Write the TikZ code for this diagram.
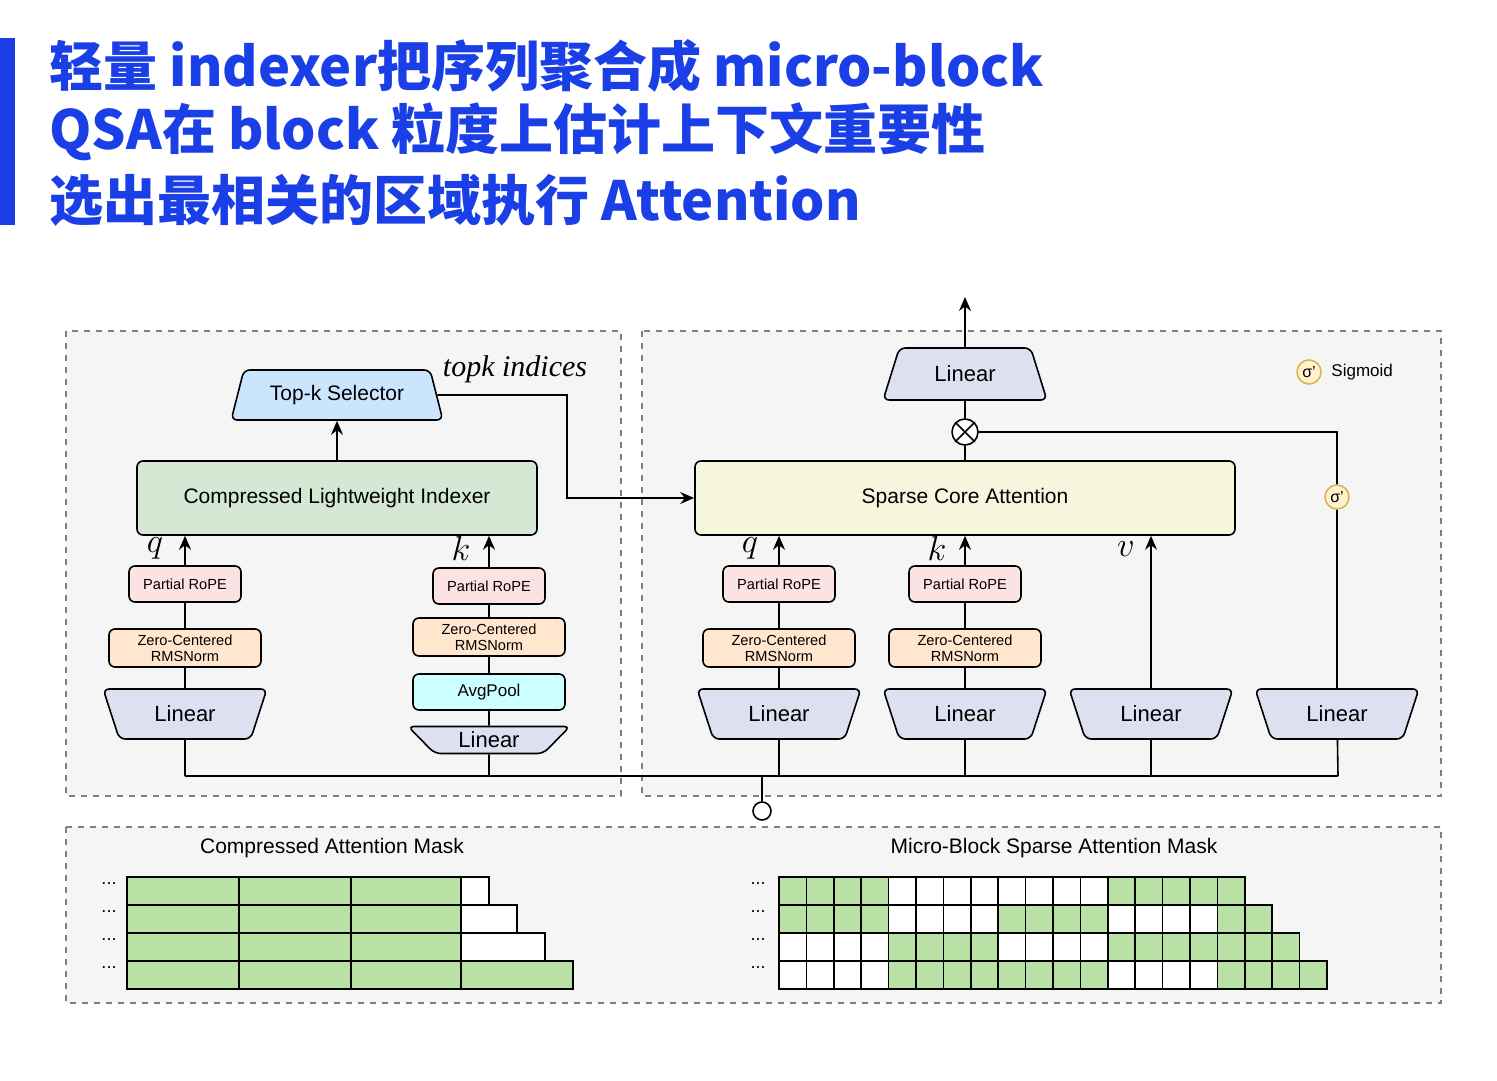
\documentclass[tikz,border=0pt]{standalone}
\usepackage{fontspec}
\setmainfont{Liberation Sans}
\newfontfamily\cjk{Noto Sans CJK SC}
\newfontfamily\serifit{Liberation Serif}
\usetikzlibrary{shapes.geometric,arrows.meta}
\definecolor{titleblue}{HTML}{1B3FE6}
\definecolor{panelbg}{HTML}{F5F5F5}
\definecolor{linfill}{HTML}{DCE0F0}
\definecolor{ropefill}{HTML}{FBE3E3}
\definecolor{normfill}{HTML}{FFE6CC}
\definecolor{poolfill}{HTML}{CCFFFF}
\definecolor{topkfill}{HTML}{CCE5FF}
\definecolor{idxfill}{HTML}{D5E8D4}
\definecolor{scafill}{HTML}{F7F7DF}
\definecolor{sigfill}{HTML}{FFF2CC}
\definecolor{sigline}{HTML}{D6B656}
\definecolor{maskgreen}{HTML}{B9E0A5}

\begin{document}
\begin{tikzpicture}[x=0.5pt,y=-0.5pt,line width=0.8pt,>={Stealth[length=7pt,width=6pt]}]
  \tikzset{panel/.style = {draw=gray,dashed,fill=panelbg,line width=0.6pt}}
  \tikzset{box/.style = {draw,rounded corners=3pt,align=center,inner sep=0pt,font=\fontsize{7.3}{8}\selectfont}}
  \tikzset{linear/.style = {trapezium,draw,fill=linfill,rounded corners=3pt,trapezium stretches=true,
      shape border rotate=180,minimum width=82pt,minimum height=25pt,trapezium angle=65,inner sep=0pt,font=\fontsize{11}{12}\selectfont}}
  \tikzset{sig/.style = {circle,draw=sigline,fill=sigfill,minimum size=12pt,inner sep=0pt,font=\fontsize{8}{9}\selectfont}}
  \tikzset{var/.style = {font=\fontsize{17}{17}\selectfont}}
  \useasboundingbox (0,0) rectangle (1497,1080);
  \fill[white] (0,0) rectangle (1497,1080);

  % title
  \fill[titleblue] (0,38) rectangle (15,225);
  \node[anchor=west,text=titleblue,font=\cjk\bfseries\fontsize{27}{30}\selectfont] (t1) at (42,66) {轻量 indexer把序列聚合成 micro-block};
  \node[anchor=west,text=titleblue,font=\cjk\bfseries\fontsize{27}{30}\selectfont] (t2) at (42,132) {QSA在 block 粒度上估计上下文重要性};
  \node[anchor=west,text=titleblue,font=\cjk\bfseries\fontsize{27}{30}\selectfont] (t3) at (42,200) {选出最相关的区域执行 Attention};

  % panels
  \draw[panel] (66,331) rectangle (621,796);
  \draw[panel] (642,331) rectangle (1441,796);
  \draw[panel] (66,827) rectangle (1441,1003);

  % indexer branch
  \node[box,fill=idxfill,minimum width=200pt,minimum height=37pt,font=\fontsize{10.5}{12}\selectfont] (idx) at (337,498) {Compressed Lightweight Indexer};
  \node[trapezium,draw,fill=topkfill,rounded corners=3pt,trapezium stretches=true,minimum width=106pt,minimum height=25pt,
      trapezium angle=65,inner sep=0pt,font=\fontsize{10.5}{12}\selectfont] (topk) at (337,395) {Top-k Selector};
  \node[font=\serifit\itshape\fontsize{15}{15}\selectfont] (tkl) at (515,369) {topk indices};

  \node[box,fill=ropefill,minimum width=56pt,minimum height=18pt] (qrope) at (185,584) {Partial RoPE};
  \node[box,fill=normfill,minimum width=76pt,minimum height=19pt] (qnorm) at (185,648) {Zero-Centered\\RMSNorm};
  \node[linear] (qlin) at (185,714) {Linear};
  \node[box,fill=ropefill,minimum width=56pt,minimum height=18pt] (krope) at (489,586) {Partial RoPE};
  \node[box,fill=normfill,minimum width=76pt,minimum height=19pt] (knorm) at (489,637) {Zero-Centered\\RMSNorm};
  \node[box,fill=poolfill,minimum width=76pt,minimum height=18pt,font=\fontsize{8.5}{9}\selectfont] (kpool) at (489,692) {AvgPool};
  \node[linear,minimum width=81pt,minimum height=13.5pt,trapezium angle=47] (klin) at (489,740) {Linear};

  \draw (qlin) -- (qnorm) -- (qrope);
  \draw[->] (qrope) -- (qrope |- idx.south);
  \draw (klin) -- (kpool) -- (knorm) -- (krope);
  \draw[->] (krope) -- (krope |- idx.south);
  \node[var] (ql) at (155,548) {$q$};
  \node[var] (kl) at (461,548) {$k$};
  \draw[->] (idx) -- (topk);

  % sparse attention branch
  \node[box,fill=scafill,minimum width=270pt,minimum height=37pt,font=\fontsize{10.5}{12}\selectfont] (sca) at (965,498) {Sparse Core Attention};
  \node[box,fill=ropefill,minimum width=56pt,minimum height=18pt] (qrope2) at (779,584) {Partial RoPE};
  \node[box,fill=normfill,minimum width=76pt,minimum height=19pt] (qnorm2) at (779,648) {Zero-Centered\\RMSNorm};
  \node[linear] (qlin2) at (779,714) {Linear};
  \node[box,fill=ropefill,minimum width=56pt,minimum height=18pt] (krope2) at (965,584) {Partial RoPE};
  \node[box,fill=normfill,minimum width=76pt,minimum height=19pt] (knorm2) at (965,648) {Zero-Centered\\RMSNorm};
  \node[linear] (klin2) at (965,714) {Linear};
  \node[linear] (vlin) at (1151,714) {Linear};
  \node[linear] (glin) at (1337,714) {Linear};
  \node[circle,draw,fill=white,minimum size=13pt,inner sep=0pt] (mul) at (965,432) {};
  \draw (mul.north west) -- (mul.south east) (mul.north east) -- (mul.south west);
  \node[trapezium,draw,fill=linfill,rounded corners=3pt,trapezium stretches=true,minimum width=82pt,minimum height=26pt,
      trapezium angle=65,inner sep=0pt,font=\fontsize{11}{12}\selectfont] (olin) at (965,374) {Linear};
  \coordinate (out) at (965,297);
  \node[sig] (gsig) at (1337,497) {σ'};
  \node[sig] (lsig) at (1309,372) {σ'};
  \node[anchor=west,font=\fontsize{8.5}{9}\selectfont] (lsigt) at (1324,372) {Sigmoid};

  \draw (qlin2) -- (qnorm2) -- (qrope2);
  \draw[->] (qrope2) -- (qrope2 |- sca.south);
  \draw (klin2) -- (knorm2) -- (krope2);
  \draw[->] (krope2) -- (krope2 |- sca.south);
  \draw[->] (vlin) -- (vlin |- sca.south);
  \node[var] (ql2) at (750,548) {$q$};
  \node[var] (kl2) at (937,548) {$k$};
  \node[var] (vl2) at (1126,549) {$v$};
  \draw (glin) -- (gsig) -- (1337,432) -- (mul);
  \draw (sca) -- (mul) -- (olin);
  \draw[->] (olin) -- (out);
  \draw[->] (topk.east) -- (567,395) -- (567,498) -- (sca.west);

  % input bus
  \coordinate (bl) at (185,776);
  \coordinate (br) at (1338,776);
  \node[circle,draw,fill=white,minimum size=9pt,inner sep=0pt] (inp) at (762,811) {};
  \draw (bl) -- (br);
  \draw (qlin) -- (bl) (klin) -- (489,776) (qlin2) -- (779,776) (klin2) -- (965,776) (vlin) -- (1151,776) (glin) -- (br);
  \draw (inp) -- (762,776);

  % masks
  \node[font=\fontsize{10.5}{12}\selectfont] (cmask) at (332,848) {Compressed Attention Mask};
  \node[font=\fontsize{10.5}{12}\selectfont] (mmask) at (1054,848) {Micro-Block Sparse Attention Mask};
  \foreach \r in {0,...,3} {
    \node[font=\fontsize{9}{9}\selectfont] (ldots\r) at (109,{884+28*\r}) {...};
    \node[font=\fontsize{9}{9}\selectfont] (rdots\r) at (758,{884+28*\r}) {...};
    \foreach \a/\b in {127/239,239/351,351/461}
      \draw[fill=maskgreen] (\a,{877+28*\r}) rectangle (\b,{905+28*\r});
  }
  \foreach \r/\e/\c in {0/489/white,1/517/white,2/545/white,3/573/maskgreen}
    \draw[fill=\c] (461,{877+28*\r}) rectangle (\e,{905+28*\r});
  \foreach \r/\n/\g in {0/16/{0,1,2,3,12,13,14,15,16},
                        1/17/{0,1,2,3,8,9,10,11,16,17},
                        2/18/{4,5,6,7,12,13,14,15,16,17,18},
                        3/19/{4,5,6,7,8,9,10,11,16,17,18,19}} {
    \foreach \c in {0,...,\n}
      \draw[fill=white] ({779+27.4*\c},{877+28*\r}) rectangle ({779+27.4*(\c+1)},{905+28*\r});
    \foreach \c in \g
      \draw[fill=maskgreen] ({779+27.4*\c},{877+28*\r}) rectangle ({779+27.4*(\c+1)},{905+28*\r});
  }
\end{tikzpicture}
\end{document}
